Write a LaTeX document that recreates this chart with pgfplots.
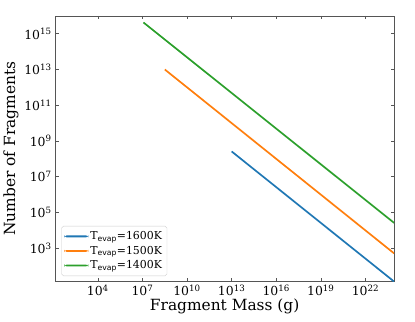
\documentclass[border=0pt]{standalone}
\usepackage{fontspec}
\setmainfont{DejaVu Serif}
\setsansfont{DejaVu Sans}
\usepackage{xcolor}
\usepackage{pgfplots}
\pgfplotsset{compat=1.18}
\definecolor{tabblue}{HTML}{1F77B4}
\definecolor{taborange}{HTML}{FF7F0E}
\definecolor{tabgreen}{HTML}{2CA02C}
\definecolor{spine}{HTML}{555555}
\newcommand{\tev}{T\textsubscript{\sffamily evap}}
\newcommand{\pt}[1]{10\textsuperscript{#1}}

\begin{document}
\begin{tikzpicture}
\begin{axis}[
  at={(0,0)}, anchor=south west, scale only axis,
  width=341pt, height=267pt,
  xmode=log, ymode=log,
  xmin=1.35e1, xmax=8.5e23, ymin=1.4e1, ymax=1e16,
  xtick={1e4,1e7,1e10,1e13,1e16,1e19,1e22},
  xticklabels={\pt{4},\pt{7},\pt{10},\pt{13},\pt{16},\pt{19},\pt{22}},
  ytick={1e3,1e5,1e7,1e9,1e11,1e13,1e15},
  yticklabels={\pt{3},\pt{5},\pt{7},\pt{9},\pt{11},\pt{13},\pt{15}},
  minor tick num=0, minor xtick={}, minor ytick={},
  tick align=inside, major tick length=3.5pt,
  tick style={color=spine, line width=0.6pt},
  axis line style={color=spine, line width=0.8pt},
  ticklabel style={font=\fontsize{12.5}{13}\selectfont},
  xlabel={Fragment Mass (g)}, ylabel={Number of Fragments},
  label style={font=\fontsize{15.5}{17}\selectfont},
  xlabel style={yshift=4pt}, ylabel style={yshift=-1pt},
  legend cell align=left,
  legend style={at={(0.018,0.02)}, anchor=south west,
    font=\fontsize{11}{12}\selectfont, draw=black!20, rounded corners=2pt,
    inner sep=3pt, nodes={inner ysep=2.5pt}},
  legend image code/.code={\fill[#1, draw=none] (0pt,-0.9pt) rectangle (24pt,0.9pt);},
]
\addplot[color=tabblue, line width=1.7pt] coordinates {(1.0e13,2.6e8) (8.5e23,1.35e1)};
\addlegendentry{\tev=1600K}
\addplot[color=taborange, line width=1.7pt] coordinates {(3.2e8,1.0e13) (8.5e23,5.1e2)};
\addlegendentry{\tev=1500K}
\addplot[color=tabgreen, line width=1.7pt] coordinates {(1.17e7,4.3e15) (8.5e23,2.6e4)};
\addlegendentry{\tev=1400K}
\end{axis}
\path[use as bounding box] (-53pt,-40pt) rectangle (362pt,283pt);
\end{tikzpicture}
\end{document}
